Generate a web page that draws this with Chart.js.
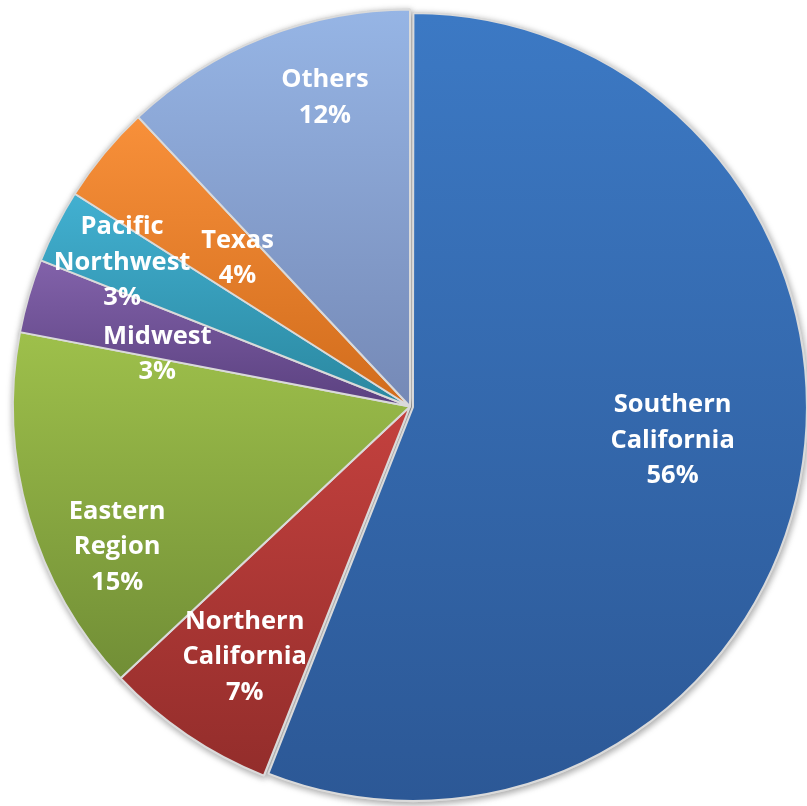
<!DOCTYPE html>
<html>
<head>
<meta charset="utf-8">
<script src="https://cdn.jsdelivr.net/npm/chart.js@4.4.1/dist/chart.umd.min.js"></script>
<style>
  html, body { margin: 0; padding: 0; background: #ffffff; }
  #wrap { position: relative; width: 807px; height: 806px; }
</style>
</head>
<body>
<div id="wrap"><canvas id="pie"></canvas></div>
<script>
// Regional share of the total, clockwise from 12 o'clock
const categories = ['Southern California', 'Northern California', 'Eastern Region', 'Midwest', 'Pacific Northwest', 'Texas', 'Others'];
const shares = [56, 7, 15, 3, 3, 4, 12];

// Fill gradients: lighter at the top of each slice, darker at its bottom
const topColors    = ['#3c79c4', '#c4413e', '#9ec04b', '#8262aa', '#42b0d1', '#f8903a', '#96b5e5'];
const bottomColors = ['#2c5896', '#932d2b', '#718e36', '#5b4180', '#2a879f', '#d16c1c', '#7589b6'];

// Where each label block sits inside its slice: fraction of the radius,
// and a small turn (degrees) away from the slice's middle angle
const labelPlacement = {
  radius: [0.667, 0.756, 0.818, 0.650, 0.811, 0.573, 0.807],
  turn:   [-3.4, -0.8, -9.4, -4.5, -0.4, 1.1, 6.2]
};

const TAU = Math.PI * 2;
function norm(a) { a %= TAU; return a < 0 ? a + TAU : a; }
function inSweep(a, s, e) {
  return norm(a - s) <= e - s;
}

// Vertical extent of an arc, used to fit its gradient
function arcExtent(arc, dx, dy) {
  const cx = arc.x + dx, cy = arc.y + dy, r = arc.outerRadius;
  const ys = [cy, cy + Math.sin(arc.startAngle) * r, cy + Math.sin(arc.endAngle) * r];
  if (inSweep(-Math.PI / 2, arc.startAngle, arc.endAngle)) ys.push(cy - r);
  if (inSweep(Math.PI / 2, arc.startAngle, arc.endAngle)) ys.push(cy + r);
  return [Math.min(...ys), Math.max(...ys)];
}

// Same displacement the arc element applies for its offset option
function arcShift(arc) {
  const o = (arc.options.offset || 0) / 4;
  const fix = 1 - Math.sin(Math.min(Math.PI, arc.circumference || 0));
  const t = o + o * fix;
  const half = (arc.startAngle + arc.endAngle) / 2;
  return [Math.cos(half) * t, Math.sin(half) * t];
}

const sliceStyle = {
  id: 'sliceStyle',
  beforeDatasetsDraw(chart) {
    const meta = chart.getDatasetMeta(0);
    const base = meta.controller.outerRadius;
    const ctx = chart.ctx;
    meta.data.forEach((arc, i) => {
      // the pulled-out slice is drawn a touch smaller
      arc.outerRadius = i === 0 ? base - 6 : base;
      const [dx, dy] = arcShift(arc);
      const [y0, y1] = arcExtent(arc, dx, dy);
      const g = ctx.createLinearGradient(0, y0, 0, y1);
      g.addColorStop(0, topColors[i]);
      g.addColorStop(1, bottomColors[i]);
      if (Object.isFrozen(arc.options)) {
        arc.options = Object.assign({}, arc.options, { backgroundColor: g });
      } else {
        arc.options.backgroundColor = g;
      }
    });
    // soft drop shadow under the pie
    ctx.save();
    ctx.shadowColor = 'rgba(0,0,0,0.35)';
    ctx.shadowBlur = 7;
    ctx.shadowOffsetX = 1;
    ctx.shadowOffsetY = 2;
    meta.data.forEach(arc => arc.draw(ctx));
    ctx.restore();
  }
};

const sliceLabels = {
  id: 'sliceLabels',
  afterDatasetsDraw(chart) {
    const meta = chart.getDatasetMeta(0);
    const ctx = chart.ctx;
    const total = shares.reduce((a, b) => a + b, 0);
    const base = meta.controller.outerRadius;
    const lineH = 35.5;
    ctx.save();
    ctx.fillStyle = '#ffffff';
    ctx.font = 'bold 25.5px "Open Sans", "DejaVu Sans", sans-serif';
    ctx.textAlign = 'center';
    ctx.textBaseline = 'middle';
    meta.data.forEach((arc, i) => {
      const mid = (arc.startAngle + arc.endAngle) / 2 + labelPlacement.turn[i] * Math.PI / 180;
      const r = labelPlacement.radius[i] * base;
      const x = arc.x + Math.cos(mid) * r;
      const y = arc.y + Math.sin(mid) * r;
      const pct = Math.round(shares[i] / total * 100) + '%';
      const lines = categories[i].split(' ').concat(pct);
      const top = y - (lines.length - 1) * lineH / 2;
      lines.forEach((t, k) => ctx.fillText(t, x, top + k * lineH));
    });
    ctx.restore();
  }
};

new Chart(document.getElementById('pie'), {
  type: 'pie',
  data: {
    labels: categories,
    datasets: [{
      data: shares,
      backgroundColor: topColors,
      borderColor: '#dadada',
      borderWidth: 2,
      offset: (c) => (c.dataIndex === 0 ? 12 : 0),
      hoverOffset: 0
    }]
  },
  options: {
    responsive: true,
    maintainAspectRatio: false,
    animation: false,
    events: [],
    radius: 397,
    layout: { padding: { left: 13, right: 0, top: 7, bottom: 0 } },
    plugins: {
      legend: { display: false },
      tooltip: { enabled: false }
    }
  },
  plugins: [sliceStyle, sliceLabels]
});
</script>
</body>
</html>
